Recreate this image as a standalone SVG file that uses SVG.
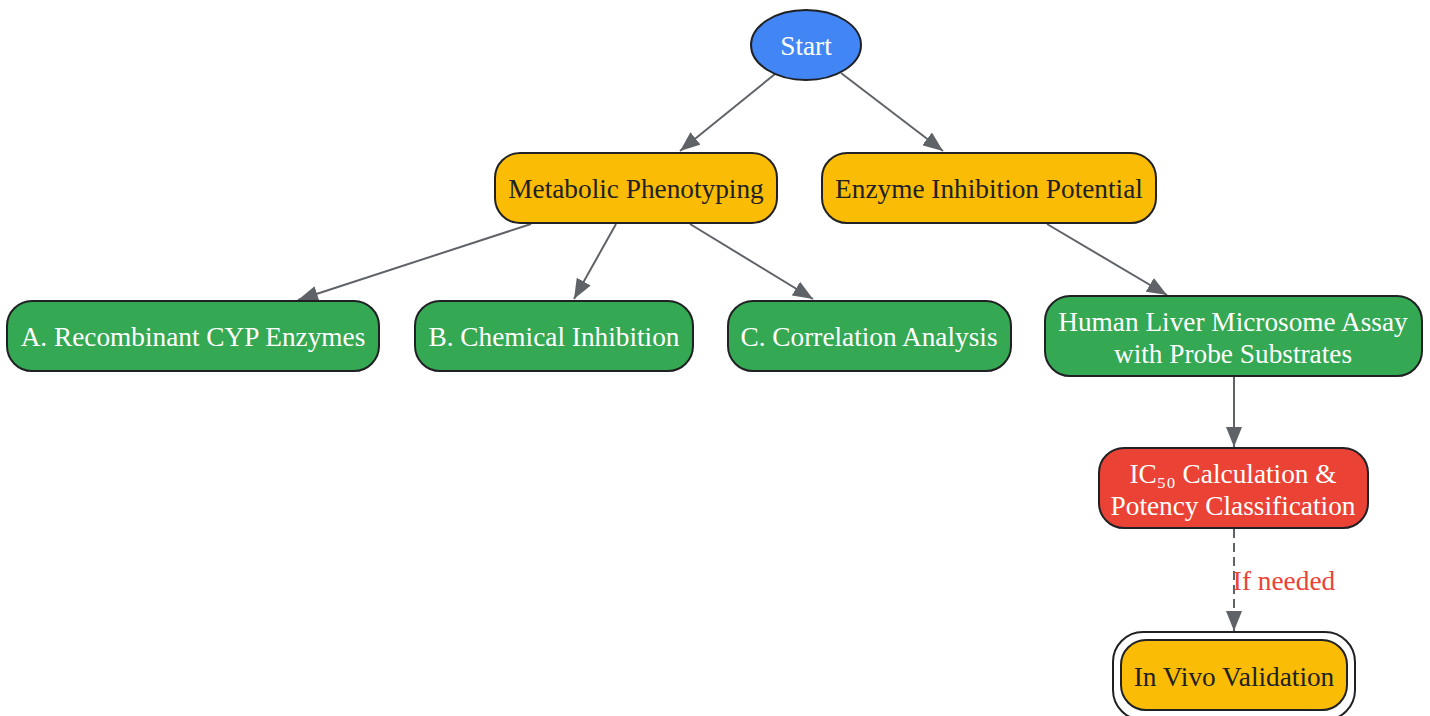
<svg xmlns="http://www.w3.org/2000/svg" width="1430" height="716" viewBox="0 0 1430 716">
<style>
.n{stroke:#202124;stroke-width:2}
.y{fill:#FBBC05}.g{fill:#34A853}.r{fill:#EA4335}.b{fill:#4285F4}
text{font-family:"Liberation Serif","Times New Roman",serif;font-size:27.3px;text-anchor:middle}
.tw{fill:#ffffff}.td{fill:#202124}
.e{stroke:#5f6368;stroke-width:2;fill:none;marker-end:url(#ah)}
</style>
<defs>
<marker id="ah" markerUnits="userSpaceOnUse" markerWidth="22" markerHeight="16" refX="20" refY="8" orient="auto">
<path d="M0,0 L20,8 L0,16 Z" fill="#5f6368"/>
</marker>
</defs>
<g id="edges">
<line class="e" x1="775" y1="74" x2="680" y2="151"/>
<line class="e" x1="841" y1="73" x2="943" y2="151"/>
<line class="e" x1="531" y1="224" x2="298" y2="300"/>
<line class="e" x1="616" y1="224" x2="574" y2="299"/>
<line class="e" x1="690" y1="224" x2="813" y2="299"/>
<line class="e" x1="1047" y1="224" x2="1167" y2="295"/>
<line class="e" x1="1234" y1="377" x2="1234" y2="447"/>
<line class="e" x1="1234" y1="529" x2="1234" y2="631" stroke-dasharray="9,5"/>
<text x="1284" y="590" style="fill:#EA4335">If needed</text>
</g>
<g id="start">
<ellipse class="n b" cx="806" cy="45" rx="55" ry="35"/>
<text class="tw" x="806" y="55">Start</text>
</g>
<g id="metabolic">
<rect class="n y" x="495" y="153" width="282" height="70" rx="25"/>
<text class="td" x="636" y="198">Metabolic Phenotyping</text>
</g>
<g id="enzyme">
<rect class="n y" x="822" y="153" width="334" height="70" rx="25"/>
<text class="td" x="989" y="198">Enzyme Inhibition Potential</text>
</g>
<g id="a">
<rect class="n g" x="7" y="301" width="372" height="70" rx="25"/>
<text class="tw" x="193" y="346">A. Recombinant CYP Enzymes</text>
</g>
<g id="b">
<rect class="n g" x="415" y="301" width="278" height="70" rx="25"/>
<text class="tw" x="554" y="346">B. Chemical Inhibition</text>
</g>
<g id="c">
<rect class="n g" x="728" y="301" width="283" height="70" rx="25"/>
<text class="tw" x="869" y="346">C. Correlation Analysis</text>
</g>
<g id="hlm">
<rect class="n g" x="1045" y="296" width="377" height="80" rx="25"/>
<text class="tw" x="1233" y="331">Human Liver Microsome Assay</text>
<text class="tw" x="1233" y="363">with Probe Substrates</text>
</g>
<g id="ic50">
<rect class="n r" x="1099" y="448" width="269" height="80" rx="25"/>
<text class="tw" x="1233" y="483">IC₅₀ Calculation &amp;</text>
<text class="tw" x="1233" y="515">Potency Classification</text>
</g>
<g id="invivo">
<rect x="1113" y="632" width="242" height="88" rx="30" fill="none" stroke="#202124" stroke-width="2"/>
<rect class="n y" x="1121" y="640" width="226" height="70" rx="25"/>
<text class="td" x="1234" y="686">In Vivo Validation</text>
</g>
</svg>
